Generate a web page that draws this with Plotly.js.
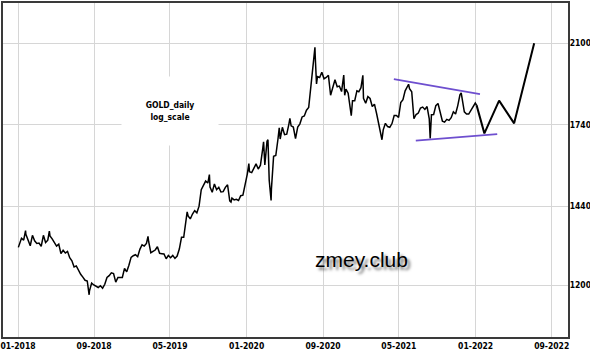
<!DOCTYPE html>
<html>
<head>
<meta charset="utf-8">
<script src="https://cdn.plot.ly/plotly-3.0.1.min.js"></script>
<style>
html,body{margin:0;padding:0;background:#fff;}
#chart{width:590px;height:354px;}
</style>
</head>
<body>
<div id="chart"></div>
<script>
// ---- data (weekly values plus visible extremes) ----
var dates2018 = ['2018-01-02','2018-01-05','2018-01-12','2018-01-19','2018-01-25','2018-01-26','2018-02-02','2018-02-09','2018-02-16','2018-02-23','2018-03-02','2018-03-09','2018-03-16','2018-03-23','2018-03-30','2018-04-06','2018-04-11','2018-04-13','2018-04-20','2018-04-27','2018-05-04','2018-05-11','2018-05-18','2018-05-25','2018-06-01','2018-06-08','2018-06-15','2018-06-22','2018-06-29','2018-07-06','2018-07-13','2018-07-20','2018-07-27','2018-08-03','2018-08-10','2018-08-16','2018-08-17','2018-08-24','2018-08-31','2018-09-07','2018-09-14','2018-09-21','2018-09-28','2018-10-05','2018-10-12','2018-10-19','2018-10-26','2018-11-02','2018-11-09','2018-11-16','2018-11-23','2018-11-30','2018-12-07','2018-12-14','2018-12-21','2018-12-28'];
var gold2018 = [1310,1320,1338,1332,1362,1350,1333,1315,1347,1330,1322,1323,1313,1347,1325,1332,1360,1345,1336,1323,1314,1320,1291,1301,1293,1298,1279,1270,1252,1255,1241,1231,1223,1214,1212,1174,1184,1206,1201,1198,1194,1199,1192,1203,1222,1227,1235,1233,1209,1222,1223,1222,1248,1238,1257,1280];

var dates2019 = ['2019-01-04','2019-01-11','2019-01-18','2019-01-25','2019-02-01','2019-02-08','2019-02-15','2019-02-20','2019-02-22','2019-03-01','2019-03-08','2019-03-15','2019-03-22','2019-03-29','2019-04-05','2019-04-12','2019-04-19','2019-04-26','2019-05-03','2019-05-10','2019-05-17','2019-05-24','2019-05-31','2019-06-07','2019-06-14','2019-06-21','2019-06-25','2019-06-28','2019-07-05','2019-07-12','2019-07-19','2019-07-26','2019-08-02','2019-08-09','2019-08-16','2019-08-23','2019-08-30','2019-09-04','2019-09-06','2019-09-13','2019-09-20','2019-09-27','2019-10-04','2019-10-11','2019-10-18','2019-10-25','2019-11-01','2019-11-08','2019-11-12','2019-11-15','2019-11-22','2019-11-29','2019-12-06','2019-12-13','2019-12-20','2019-12-27'];
var gold2019 = [1285,1288,1282,1304,1318,1314,1322,1344,1328,1294,1298,1302,1312,1292,1291,1290,1276,1286,1279,1286,1277,1284,1305,1341,1341,1399,1422,1409,1399,1415,1426,1419,1441,1497,1513,1527,1520,1550,1506,1488,1517,1497,1505,1489,1490,1505,1514,1459,1455,1468,1462,1464,1460,1476,1478,1511];

var dates2020 = ['2020-01-03','2020-01-08','2020-01-10','2020-01-17','2020-01-24','2020-01-31','2020-02-07','2020-02-14','2020-02-21','2020-02-24','2020-02-28','2020-03-06','2020-03-09','2020-03-13','2020-03-19','2020-03-20','2020-03-27','2020-04-03','2020-04-10','2020-04-14','2020-04-17','2020-04-24','2020-05-01','2020-05-08','2020-05-15','2020-05-18','2020-05-22','2020-05-29','2020-06-05','2020-06-12','2020-06-19','2020-06-26','2020-07-03','2020-07-10','2020-07-17','2020-07-24','2020-07-31','2020-08-06','2020-08-07','2020-08-11','2020-08-14','2020-08-21','2020-08-28','2020-09-04','2020-09-11','2020-09-18','2020-09-25','2020-10-02','2020-10-09','2020-10-16','2020-10-23','2020-10-30','2020-11-06','2020-11-09','2020-11-13','2020-11-20','2020-11-27','2020-11-30','2020-12-04','2020-12-11','2020-12-18','2020-12-24','2020-12-31'];
var gold2020 = [1552,1590,1560,1557,1571,1589,1570,1584,1643,1672,1585,1674,1680,1530,1460,1498,1617,1620,1683,1727,1683,1729,1700,1702,1743,1765,1735,1730,1684,1730,1743,1771,1775,1799,1810,1902,1975,2080,2035,1911,1944,1940,1964,1934,1940,1950,1862,1899,1930,1899,1902,1878,1951,1862,1889,1871,1788,1776,1839,1839,1881,1877,1895];

var dates2021 = ['2021-01-06','2021-01-08','2021-01-15','2021-01-22','2021-01-29','2021-02-05','2021-02-12','2021-02-19','2021-02-26','2021-03-05','2021-03-08','2021-03-12','2021-03-19','2021-03-26','2021-04-02','2021-04-09','2021-04-16','2021-04-23','2021-04-30','2021-05-07','2021-05-14','2021-05-21','2021-05-28','2021-06-01','2021-06-04','2021-06-11','2021-06-18','2021-06-25','2021-07-02','2021-07-09','2021-07-16','2021-07-23','2021-07-30','2021-08-06','2021-08-09','2021-08-13','2021-08-20','2021-08-27','2021-09-03','2021-09-10','2021-09-17','2021-09-24','2021-10-01','2021-10-08','2021-10-15','2021-10-22','2021-10-29','2021-11-05','2021-11-12','2021-11-16','2021-11-19','2021-11-26','2021-12-03','2021-12-10','2021-12-17','2021-12-24','2021-12-31','2022-01-04'];
var gold2021 = [1950,1849,1828,1856,1848,1814,1824,1784,1734,1700,1680,1719,1745,1732,1729,1744,1777,1777,1769,1831,1843,1881,1903,1910,1891,1877,1764,1781,1787,1808,1812,1802,1814,1763,1685,1780,1781,1818,1827,1787,1754,1750,1761,1757,1768,1792,1783,1818,1864,1872,1846,1792,1783,1783,1798,1811,1829,1820];

// projection path
var projDates = ['2022-01-04','2022-01-29','2022-03-17','2022-05-04','2022-07-07'];
var projValues = [1820,1705,1839,1745,2100];

// channel lines
var upperDates = ['2021-04-15','2022-01-15'];
var upperValues = [1933,1867];
var lowerDates = ['2021-06-24','2022-03-11'];
var lowerValues = [1677,1702];

// axis ticks
var xTickVals = ['2018-01-01','2018-09-01','2019-05-01','2020-01-01','2020-09-01','2021-05-01','2022-01-01','2022-09-01'];
var xTickText = ['01-2018','09-2018','05-2019','01-2020','09-2020','05-2021','01-2022','09-2022'];
var yTickVals = [1200,1440,1740,2100];
var yTickText = ['1200','1440','1740','2100'];

// ---- chart ----
var goldDates = dates2018.concat(dates2019, dates2020, dates2021);
var goldValues = gold2018.concat(gold2019, gold2020, gold2021);

var narrow = 'Liberation Sans Narrow, Arial Narrow, DejaVu Sans Condensed, sans-serif';

var traces = [
  {x: goldDates, y: goldValues, type: 'scatter', mode: 'lines',
   line: {color: '#000000', width: 1.5}},
  {x: projDates, y: projValues, type: 'scatter', mode: 'lines',
   line: {color: '#000000', width: 2}},
  {x: upperDates, y: upperValues, type: 'scatter', mode: 'lines',
   line: {color: '#6e4fcf', width: 1.8}},
  {x: lowerDates, y: lowerValues, type: 'scatter', mode: 'lines',
   line: {color: '#6e4fcf', width: 1.8}}
];

var layout = {
  width: 590, height: 354,
  margin: {l: 3, r: 22, t: 3, b: 17, pad: 0},
  paper_bgcolor: '#ffffff', plot_bgcolor: '#ffffff',
  showlegend: false, hovermode: false,
  xaxis: {
    type: 'date', range: ['2017-11-14', '2022-10-23'],
    tickmode: 'array', tickvals: xTickVals, ticktext: xTickText,
    showgrid: true, gridcolor: '#d6d6d6', gridwidth: 1,
    zeroline: false, ticks: '', ticklabeloverflow: 'allow',
    showline: true, linecolor: '#3a3a3a', linewidth: 2, mirror: true,
    tickfont: {family: narrow, size: 8.5, color: '#000', weight: 'bold'}
  },
  yaxis: {
    type: 'log', range: [3.0273, 3.3626], side: 'right',
    tickmode: 'array', tickvals: yTickVals, ticktext: yTickText,
    showgrid: true, gridcolor: '#d6d6d6', gridwidth: 1,
    zeroline: false, ticks: '', ticklabeloverflow: 'allow', ticklabelstandoff: -2,
    showline: true, linecolor: '#3a3a3a', linewidth: 2, mirror: true,
    tickfont: {family: narrow, size: 8.5, color: '#000', weight: 'bold'}
  },
  annotations: [
    {xref: 'paper', yref: 'paper', x: 0.2956, y: 0.677,
     xanchor: 'center', yanchor: 'middle', showarrow: false,
     text: 'GOLD_daily<br>log_scale', align: 'center',
     width: 96, height: 68, bgcolor: '#ffffff', borderpad: 0,
     font: {family: narrow, size: 8.5, color: '#000', weight: 'bold'}},
    {xref: 'paper', yref: 'paper', x: 0.635, y: 0.233,
     xanchor: 'center', yanchor: 'middle', showarrow: false,
     text: 'zmey.club',
     font: {family: 'Liberation Sans, Arial, sans-serif', size: 21, color: '#000',
            shadow: '3px 3px 3px rgba(0,0,0,0.55)'}}
  ]
};

Plotly.newPlot('chart', traces, layout, {staticPlot: true, displayModeBar: false});
</script>
</body>
</html>
